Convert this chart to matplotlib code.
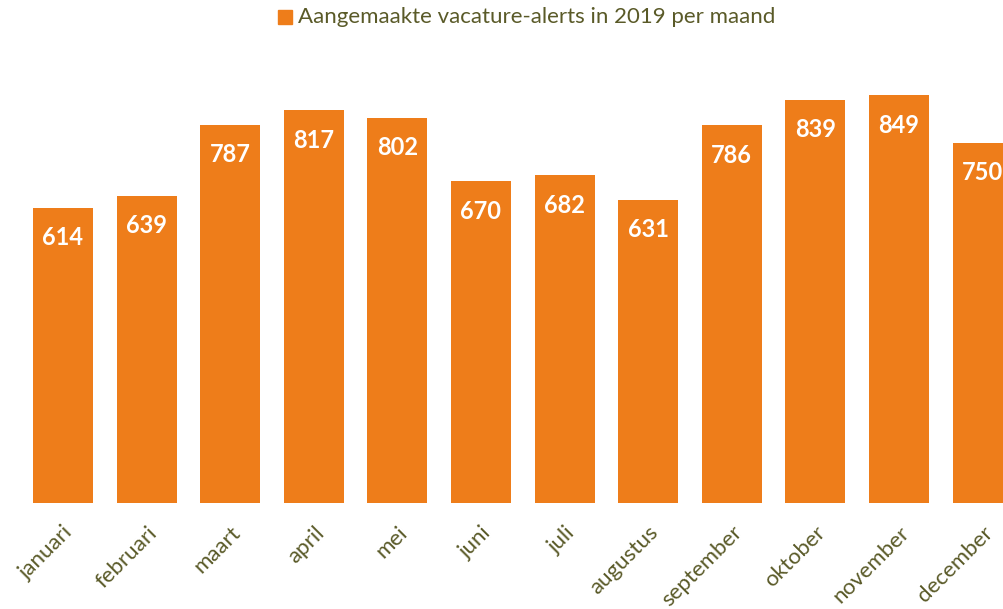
import matplotlib
matplotlib.use("Agg")
import matplotlib.pyplot as plt
from matplotlib.patches import Rectangle

months = ["januari", "februari", "maart", "april", "mei", "juni", "juli",
          "augustus", "september", "oktober", "november", "december"]
values = [614, 639, 787, 817, 802, 670, 682, 631, 786, 839, 849, 750]
series_name = "Aangemaakte vacature-alerts in 2019 per maand"

BAR = "#EE7D1A"
TXT = "#5A5A28"
FONT = "Lato"

W, H = 1004, 609
fig = plt.figure(figsize=(W / 100, H / 100), dpi=100)
fig.patch.set_facecolor("white")

pitch = 83.6
left_px = 63 - 0.5 * pitch
ax = fig.add_axes([left_px / W, 106 / H, 12 * pitch / W, 480.5 / H])
x = list(range(len(months)))
bars = ax.bar(x, values, width=0.72, color=BAR)
ax.set_xlim(-0.5, 11.5)
ax.set_ylim(0, 1000)
for s in ax.spines.values():
    s.set_visible(False)
ax.set_yticks([])
ax.set_xticks(x)
ax.set_xticklabels(months, rotation=45, ha="right", rotation_mode="anchor",
                   fontsize=16, color=TXT, family=FONT)
ax.tick_params(axis="x", length=0, pad=14)

for xi, v in zip(x, values):
    ax.annotate(str(v), (xi, v), xytext=(0, -30), textcoords="offset pixels",
                ha="center", va="center", color="white", fontsize=17,
                fontweight="bold", family=FONT)

# legend
fig.patches.append(Rectangle((278 / W, 1 - 24 / H), 14 / W, 14 / H,
                             transform=fig.transFigure, color=BAR))
fig.text(298 / W, 1 - 17 / H, series_name, ha="left", va="center",
         fontsize=16, color=TXT, family=FONT)

fig.savefig("out.png", dpi=100)
